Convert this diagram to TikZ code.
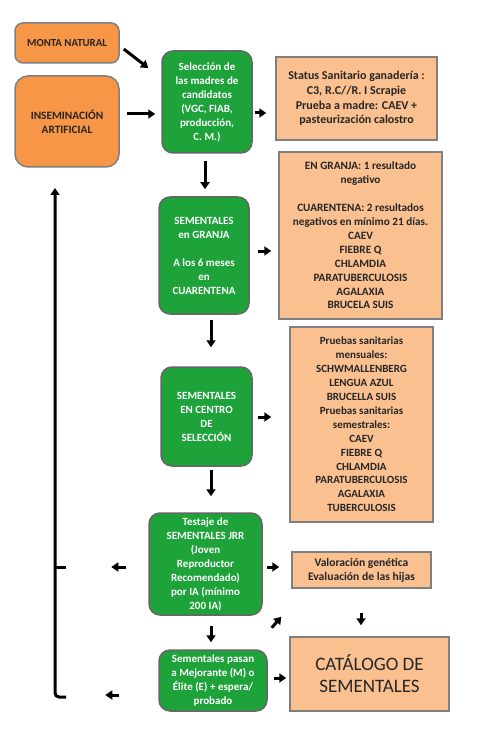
\documentclass[tikz,border=0pt]{standalone}
\usepackage{fontspec}
\setmainfont{Carlito}
\usetikzlibrary{arrows.meta}
\definecolor{naranja}{HTML}{F79646}
\definecolor{melocoton}{HTML}{FAC090}
\definecolor{verde}{HTML}{1EA23A}
\definecolor{borde}{HTML}{7F7F7F}
\begin{document}
\begin{tikzpicture}[x=1pt, y=-1pt,
	origen/.style={draw=borde, line width=1.5pt, fill=naranja, rounded corners=8pt, align=center, inner sep=0pt,
		font=\bfseries\fontsize{11.3}{14}\selectfont, text=black!85},
	etapa/.style={draw=borde!80!black, line width=1.5pt, fill=verde, rounded corners=11pt, align=center, inner sep=0pt,
		font=\bfseries\fontsize{11}{14}\selectfont, text=white},
	prueba/.style={draw=borde, line width=1.5pt, fill=melocoton, align=center, inner sep=0pt,
		font=\bfseries\fontsize{11.2}{13.9}\selectfont, text=black!85},
	flecha/.style={line width=3pt, -{Triangle[width=9pt,length=7pt]}}]
		\useasboundingbox (0,0) rectangle (484,735);
		\node[origen, minimum width=104pt, minimum height=40pt, font=\bfseries\fontsize{10.8}{14}\selectfont] (monta) at (67,43) {MONTA NATURAL};
		\node[origen, minimum width=104pt, minimum height=91pt, rounded corners=13pt] (insem) at (67,121.5) {INSEMINACIÓN\\ARTIFICIAL};
		\node[etapa, minimum width=90pt, minimum height=102pt] (sel) at (207,102) {Selección de\\las madres de\\candidatos\\(VGC, FIAB,\\producción,\\C. M.)};
		\node[prueba, minimum width=161pt, minimum height=83pt, font=\bfseries\fontsize{12}{14.6}\selectfont] (status) at (356.5,98.5) {Status Sanitario ganadería :\\C3, R.C//R. I Scrapie\\Prueba a madre: CAEV +\\pasteurización calostro};
		\node[etapa, minimum width=90pt, minimum height=117pt] (granja) at (204,255.5) {SEMENTALES\\en GRANJA\\[14pt]A los 6 meses\\en\\CUARENTENA};
		\node[prueba, minimum width=163pt, minimum height=167pt] (cuar) at (360.5,235.5) {EN GRANJA: 1 resultado\\negativo\\[14pt]CUARENTENA: 2 resultados\\negativos en mínimo 21 días.\\CAEV\\FIEBRE Q\\CHLAMDIA\\PARATUBERCULOSIS\\AGALAXIA\\BRUCELA SUIS};
		\node[etapa, minimum width=91pt, minimum height=99pt] (centro) at (206.5,416.5) {SEMENTALES\\EN CENTRO\\DE\\SELECCIÓN};
		\node[prueba, minimum width=143pt, minimum height=195pt, font=\bfseries\fontsize{11}{13.9}\selectfont] (pruebas) at (361.5,424.5) {Pruebas sanitarias\\mensuales:\\SCHWMALLENBERG\\LENGUA AZUL\\BRUCELLA SUIS\\Pruebas sanitarias\\semestrales:\\CAEV\\FIEBRE Q\\CHLAMDIA\\PARATUBERCULOSIS\\AGALAXIA\\TUBERCULOSIS};
		\node[etapa, minimum width=113pt, minimum height=102pt] (testaje) at (205.5,564) {Testaje de\\SEMENTALES JRR\\(Joven\\Reproductor\\Recomendado)\\por IA (mínimo\\200 IA)};
		\node[prueba, minimum width=139pt, minimum height=36pt, font=\bfseries\fontsize{11.6}{14}\selectfont] (valor) at (361.5,570) {Valoración genética\\Evaluación de las hijas};
		\node[etapa, minimum width=108pt, minimum height=61pt] (pasan) at (213,680.5) {Sementales pasan\\a Mejorante (M) o\\Élite (E) + espera/\\probado};
		\node[prueba, minimum width=159pt, minimum height=74pt, font=\fontsize{19}{22}\selectfont] (catalogo) at (369.5,674) {CATÁLOGO DE\\SEMENTALES};
		\coordinate (retbot) at (66,697);
		\coordinate (retmid) at (66,567);
		\coordinate (rettop) at (55,188);
		\draw[flecha] ([shift={(4,6)}]monta.east) -- ([shift={(-13,-34)}]sel.west);
		\draw[flecha] ([shift={(7,-7.5)}]insem.east) -- ([shift={(-6,12)}]sel.west);
		\draw[flecha] ([shift={(2,11)}]sel.east) -- ([shift={(-9,14.5)}]status.west);
		\draw[flecha] ([shift={(-2,7)}]sel.south) -- ([shift={(1,-7)}]granja.north);
		\draw[flecha] ([shift={(8,-4.5)}]granja.east) -- ([shift={(-7,15.5)}]cuar.west);
		\draw[flecha] ([shift={(7,5)}]granja.south) -- ([shift={(4.5,-19)}]centro.north);
		\draw[flecha] ([shift={(5,0.5)}]centro.east) -- ([shift={(-18,-7.5)}]pruebas.west);
		\draw[flecha] ([shift={(4.5,3)}]centro.south) -- ([shift={(5.5,-16)}]testaje.north);
		\draw[flecha] ([shift={(4,3)}]testaje.east) -- ([shift={(-12,-3)}]valor.west);
		\draw[flecha] ([shift={(-22,3)}]testaje.west) -- ++(-15,0);
		\draw[flecha] ([shift={(9,12)}]testaje.south east) -- ([shift={(-10,28)}]valor.south west);
		\draw[flecha] ([shift={(-0.5,24)}]valor.south) -- ([shift={(-8.5,-11)}]catalogo.north);
		\draw[flecha] ([shift={(5.5,10)}]testaje.south) -- ([shift={(-2,-7)}]pasan.north);
		\draw[flecha] ([shift={(6,-2.5)}]pasan.east) -- ([shift={(-3,4)}]catalogo.west);
		\draw[flecha] ([shift={(-39,14.5)}]pasan.west) -- ++(-14,0);
		\draw[flecha, rounded corners=4pt] (retbot) -- (retbot -| rettop) -- (rettop);
		\draw[line width=3pt] (retmid) -- (retmid -| rettop);
	\end{tikzpicture}
\end{document}
